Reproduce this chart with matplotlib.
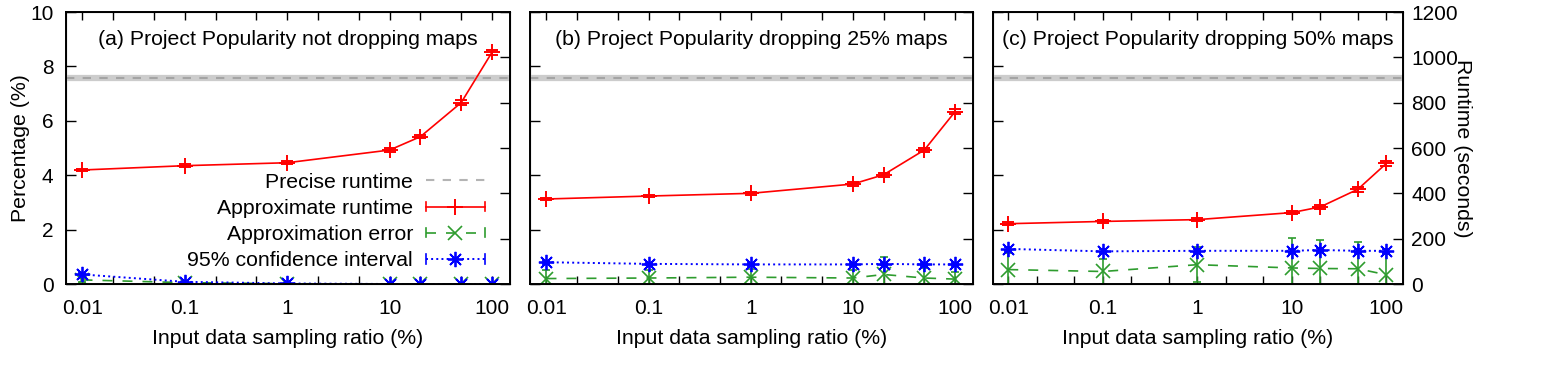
import numpy as np
import matplotlib
matplotlib.use("Agg")
import matplotlib.pyplot as plt
from matplotlib.lines import Line2D
from matplotlib.legend_handler import HandlerLine2D
from matplotlib.ticker import NullLocator

plt.rcParams["font.family"] = ["Liberation Sans", "DejaVu Sans"]
plt.rcParams["font.size"] = 15

# x values: input data sampling ratio (%)
sampling = [0.01, 0.1, 1, 10, 20, 50, 100]
xtick_vals = [0.01, 0.02, 0.05, 0.1, 0.2, 0.5, 1, 2, 5, 10, 20, 50, 100]
xtick_labels = ["0.01", "", "", "0.1", "", "", "1", "", "", "10", "", "", "100"]

titles = ["(a) Project Popularity not dropping maps",
          "(b) Project Popularity dropping 25% maps",
          "(c) Project Popularity dropping 50% maps"]

# precise runtime (seconds, right axis)
precise_runtime = [910, 910, 910]

# approximate runtime (seconds, right axis)
runtime_a = [503, 522, 535, 591, 650, 800, 1022]
runtime_b = [375, 388, 400, 441, 482, 591, 760]
runtime_c = [266, 276, 284, 315, 340, 418, 532]
runtime_err_a = [6, 6, 6, 8, 8, 10, 10]
runtime_err_b = [6, 6, 6, 8, 8, 10, 10]
runtime_err_c = [6, 6, 6, 8, 8, 10, 10]

# approximation error (%, left axis)
error_a = [0.15, 0.05, 0.01, 0.0, 0.0, 0.0, 0.0]
error_b = [0.2, 0.22, 0.25, 0.22, 0.35, 0.22, 0.18]
error_c = [0.53, 0.46, 0.71, 0.59, 0.57, 0.56, 0.34]
error_err_a = [0.08, 0.04, 0.02, 0.0, 0.0, 0.0, 0.0]
error_err_b = [0.3, 0.3, 0.3, 0.3, 0.65, 0.35, 0.25]
error_err_c = [0.6, 0.45, 0.65, 1.1, 1.05, 1.0, 0.75]

# 95% confidence interval (%, left axis)
ci_a = [0.35, 0.08, 0.02, 0.0, 0.0, 0.0, 0.0]
ci_b = [0.8, 0.74, 0.72, 0.72, 0.74, 0.72, 0.72]
ci_c = [1.29, 1.2, 1.22, 1.22, 1.25, 1.22, 1.22]
ci_err_a = [0.05, 0.03, 0.01, 0.0, 0.0, 0.0, 0.0]
ci_err_b = [0.06, 0.05, 0.05, 0.05, 0.05, 0.05, 0.05]
ci_err_c = [0.08, 0.07, 0.07, 0.07, 0.07, 0.07, 0.07]

RED = "#ff0000"
GREEN = "#2e9c2e"
BLUE = "#0000ff"
GRAY = "#b4b4b4"


class CapHandler(HandlerLine2D):
    """gnuplot-like legend sample: line with end caps."""
    def create_artists(self, legend, orig_handle, xdescent, ydescent,
                       width, height, fontsize, trans):
        arts = super().create_artists(legend, orig_handle, xdescent, ydescent,
                                      width, height, fontsize, trans)
        ym = (height - ydescent) / 2
        h = 0.32 * height
        for x in (-xdescent, -xdescent + width):
            arts.append(Line2D([x, x], [ym - h, ym + h], color=orig_handle.get_color(),
                               lw=1.2, transform=trans))
        return arts


W, H = 1545, 387
px_left = [66, 530, 993]
px_right = [510, 973, 1403]
top_px, bot_px = 12, 284

fig = plt.figure(figsize=(15.45, 3.87), dpi=100)

panels = [
    (runtime_a, runtime_err_a, error_a, error_err_a, ci_a, ci_err_a),
    (runtime_b, runtime_err_b, error_b, error_err_b, ci_b, ci_err_b),
    (runtime_c, runtime_err_c, error_c, error_err_c, ci_c, ci_err_c),
]

for i, (rt, rte, er, ere, ci, cie) in enumerate(panels):
    l = px_left[i] / W
    w = (px_right[i] - px_left[i]) / W
    b = 1 - bot_px / H
    h = (bot_px - top_px) / H
    ax = fig.add_axes([l, b, w, h])
    ax2 = ax.twinx()

    ax.set_xscale("log")
    ax.set_xlim(0.0069, 150)
    ax.set_ylim(0, 10)
    ax2.set_ylim(0, 1200)

    # precise runtime band
    ax2.axhline(precise_runtime[i], color="#cccccc", lw=4.5, zorder=1)
    ax2.axhline(precise_runtime[i], color="#a4a4a4", lw=1.5, dashes=(4, 4), zorder=1.5)

    ax.errorbar(sampling, er, yerr=ere, color=GREEN, ls="--", dashes=(6, 6), lw=1.2,
                marker="x", ms=10, mew=1.2, elinewidth=1.2, capsize=3, capthick=1.2)
    ax.errorbar(sampling, ci, yerr=cie, color=BLUE, ls=":", lw=1.4,
                marker=(8, 2, 0), ms=11, mew=1.3, elinewidth=1.2, capsize=3, capthick=1.2)
    ax2.errorbar(sampling, rt, yerr=rte, color=RED, ls="-", lw=1.2,
                 marker="+", ms=11, mew=1.4, elinewidth=1.2, capsize=4, capthick=1.4,
                 zorder=3)

    ax.set_xticks(xtick_vals)
    ax.set_xticklabels(xtick_labels)
    ax.xaxis.set_minor_locator(NullLocator())
    ax.set_yticks([0, 2, 4, 6, 8, 10])
    ax2.set_yticks(range(0, 1201, 200))
    ax.tick_params(axis="x", direction="in", top=True, length=6, width=1.0, pad=11,
                   labelsize=15)
    ax.tick_params(axis="y", direction="in", right=False, length=7, width=1.0, pad=9,
                   labelleft=(i == 0), labelsize=15)
    ax2.tick_params(axis="y", direction="in", length=7, width=1.0, pad=6,
                    labelright=(i == 2), labelsize=15)
    for s in ax2.spines.values():
        s.set_linewidth(1.4)

    ax.text(0.5, 0.9, titles[i], transform=ax.transAxes, ha="center", va="center",
            fontsize=15.3)
    ax.set_xlabel("Input data sampling ratio (%)", fontsize=15.3, labelpad=8)

    if i == 0:
        ax.set_ylabel("Percentage (%)", fontsize=15.3, labelpad=0)
        handles = [
            Line2D([], [], color=GRAY, lw=1.5, dashes=(4, 4)),
            Line2D([], [], color=RED, lw=1.2, marker="+", ms=11, mew=1.4),
            Line2D([], [], color=GREEN, lw=1.2, ls="--", dashes=(6, 6), marker="x", ms=10, mew=1.2),
            Line2D([], [], color=BLUE, lw=1.4, ls=":", marker=(8, 2, 0), ms=11, mew=1.3),
        ]
        labels = ["Precise runtime", "Approximate runtime", "Approximation error",
                  "95% confidence interval"]
        hmap = {handles[1]: CapHandler(numpoints=1), handles[2]: CapHandler(numpoints=1),
                handles[3]: CapHandler(numpoints=1)}
        leg = ax2.legend(handles, labels, handler_map=hmap, loc="lower right",
                         bbox_to_anchor=(0.944, 0.05), frameon=False, markerfirst=False,
                         numpoints=1, handlelength=2.8, handletextpad=0.6,
                         labelspacing=0.34, borderpad=0, borderaxespad=0, fontsize=15.3)
    if i == 2:
        ax2.set_ylabel("Runtime (seconds)", rotation=270, va="bottom", fontsize=15.3,
                       labelpad=-4)

fig.savefig("out.png", dpi=100)
plt.close(fig)
